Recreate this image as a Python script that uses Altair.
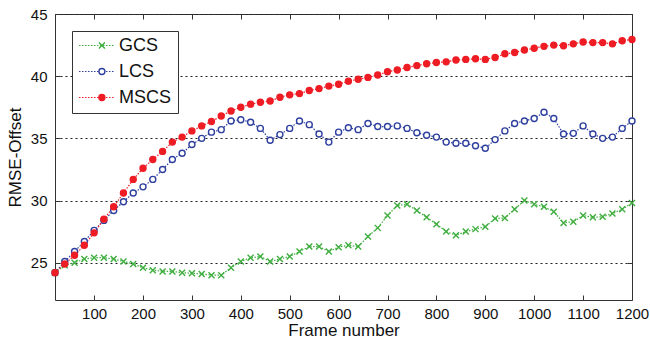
import altair as alt
import pandas as pd

frames = list(range(20, 1201, 20))

gcs = [24.2, 24.8, 25.0, 25.3, 25.4, 25.4, 25.3, 25.1, 24.9, 24.6,
       24.4, 24.3, 24.3, 24.2, 24.15, 24.1, 24.0, 24.0, 24.6, 25.1,
       25.4, 25.5, 25.1, 25.3, 25.5, 25.9, 26.3, 26.3, 25.9, 26.25,
       26.4, 26.3, 27.1, 27.8, 28.8, 29.6, 29.7, 29.2, 28.65, 28.1,
       27.5, 27.2, 27.5, 27.7, 27.9, 28.55, 28.6, 29.3, 30.0, 29.7,
       29.5, 29.1, 28.2, 28.3, 28.8, 28.65, 28.7, 28.95, 29.3, 29.8]

lcs = [24.2, 25.1, 25.9, 26.7, 27.6, 28.4, 29.2, 29.9, 30.6, 31.1,
       31.7, 32.5, 33.3, 33.8, 34.5, 35.0, 35.5, 35.7, 36.4, 36.5,
       36.3, 35.8, 34.85, 35.3, 35.8, 36.4, 36.1, 35.35, 34.7, 35.5,
       35.85, 35.7, 36.2, 35.95, 35.95, 36.0, 35.8, 35.45, 35.25, 35.1,
       34.7, 34.6, 34.6, 34.4, 34.2, 34.9, 35.6, 36.2, 36.4, 36.6,
       37.1, 36.6, 35.35, 35.4, 36.0, 35.35, 35.0, 35.1, 35.8, 36.4]

mscs = [24.2, 24.9, 25.6, 26.4, 27.4, 28.5, 29.5, 30.6, 31.7, 32.6,
        33.3, 33.95, 34.7, 35.1, 35.6, 36.0, 36.35, 36.8, 37.2, 37.5,
        37.75, 37.9, 38.0, 38.3, 38.5, 38.6, 38.85, 39.0, 39.2, 39.35,
        39.6, 39.75, 39.9, 40.1, 40.35, 40.5, 40.7, 40.85, 41.0, 41.1,
        41.15, 41.3, 41.35, 41.4, 41.35, 41.5, 41.8, 41.9, 42.1, 42.25,
        42.4, 42.5, 42.45, 42.6, 42.75, 42.7, 42.7, 42.6, 42.85, 42.95]

series_names = ["GCS", "LCS", "MSCS"]
colors = ["#3fae3f", "#2e3f9e", "#ee1c24"]
x_ticks = [100, 200, 300, 400, 500, 600, 700, 800, 900, 1000, 1100, 1200]
y_ticks = [25, 30, 35, 40, 45]

rows = []
for name, vals in zip(series_names, [gcs, lcs, mscs]):
    for f, v in zip(frames, vals):
        rows.append({"frame": f, "value": v, "series": name, "label": name})
df = pd.DataFrame(rows)

FONT = "Liberation Sans"
AX = "#333"

xscale = alt.Scale(domain=[20, 1200], nice=False, zero=False)
yscale = alt.Scale(domain=[22, 45], nice=False, zero=False)

# bottom / left axes: shifted 5px inward so their ticks point into the plot
x_axis = alt.Axis(values=x_ticks, format="d", title="Frame number", grid=False,
                  orient="bottom", offset=-5, domain=False,
                  ticks=True, tickSize=5, tickColor=AX, tickWidth=1, tickOpacity=1,
                  labelFontSize=15, titleFontSize=17, labelPadding=6,
                  labelOverlap=False, labelFlush=False,
                  titlePadding=1, labelColor="#111", titleColor="#111")
y_axis = alt.Axis(values=y_ticks, title="RMSE-Offset", grid=True,
                  orient="left", offset=-5, domain=False,
                  ticks=True, tickSize=5, tickColor=AX, tickWidth=1, tickOpacity=1,
                  gridDash=[2, 3], gridColor="#222", gridOpacity=1, gridWidth=1,
                  labelFontSize=15, titleFontSize=17, labelPadding=8,
                  labelOverlap=False, labelFlush=False,
                  titlePadding=6, labelColor="#111", titleColor="#111")
# top / right axes: ticks only
x_axis_top = alt.Axis(values=x_ticks, orient="top", offset=-5, domain=False,
                      labels=False, title=None, grid=False,
                      ticks=True, tickSize=5, tickColor=AX, tickWidth=1, tickOpacity=1)
y_axis_right = alt.Axis(values=y_ticks, orient="right", offset=-5, domain=False,
                        labels=False, title=None, grid=False,
                        ticks=True, tickSize=5, tickColor=AX, tickWidth=1, tickOpacity=1)

LEG_X, LEG_Y = 17, 17
common_leg = dict(title=None, orient="none", legendX=LEG_X, legendY=LEG_Y,
                  padding=6, clipHeight=17, rowPadding=7,
                  labelFont=FONT, labelFontSize=18, labelColor="#111")

line_legend = alt.Legend(
    symbolType="M-1,0L1,0", symbolSize=1296, symbolDash=[1.5, 1.5],
    symbolStrokeWidth=1.2, symbolOffset=0, labelOffset=3,
    strokeColor="#333", fillColor="white", zindex=1, **common_leg)

marker_legend = alt.Legend(
    symbolSize=36, symbolStrokeWidth=1.4, symbolOffset=14.9, labelOffset=3,
    labelExpr="''", zindex=2, **common_leg)

lines = alt.Chart(df).mark_line(strokeWidth=1.2, strokeDash=[1.5, 1.5]).encode(
    x=alt.X("frame:Q", scale=xscale, axis=x_axis),
    y=alt.Y("value:Q", scale=yscale, axis=y_axis),
    color=alt.Color("label:N", scale=alt.Scale(range=colors),
                    legend=line_legend),
)

points = alt.Chart(df).mark_point(filled=False, strokeWidth=1.4, opacity=1,
                                  size=36).encode(
    x=alt.X("frame:Q", scale=xscale, axis=x_axis_top),
    y=alt.Y("value:Q", scale=yscale, axis=y_axis_right),
    stroke=alt.Stroke("series:N", scale=alt.Scale(domain=series_names, range=colors),
                      legend=marker_legend),
    fill=alt.Fill("series:N",
                  scale=alt.Scale(domain=series_names,
                                  range=["transparent", "white", colors[2]]),
                  legend=marker_legend),
    shape=alt.Shape("series:N",
                    scale=alt.Scale(domain=series_names,
                                    range=["M-1,-1L1,1M-1,1L1,-1", "circle", "circle"]),
                    legend=marker_legend),
)

chart = alt.layer(lines, points).resolve_axis(
    x="independent", y="independent"
).properties(
    width=577, height=286,
    autosize=alt.AutoSizeParams(type="none"),
    padding={"left": 55, "top": 14, "right": 18, "bottom": 44},
    background="white",
).configure_view(
    stroke=AX, strokeWidth=1
).configure_axis(
    labelFont=FONT, titleFont=FONT, titleFontWeight="normal"
)

chart.save("out.html", embed_options={"renderer": "svg", "actions": False})
